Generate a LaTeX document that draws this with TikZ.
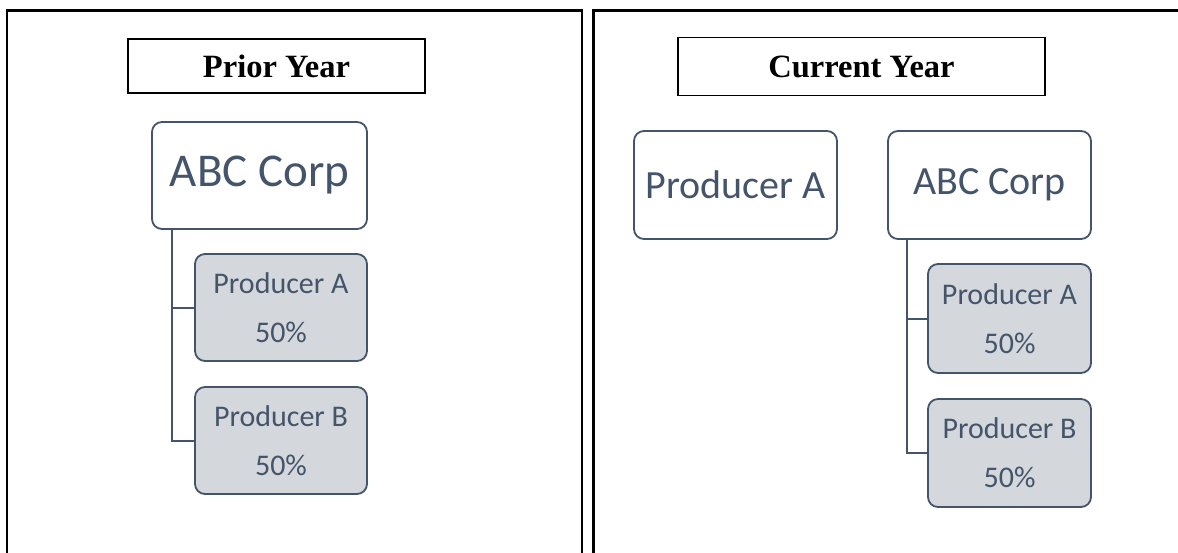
\documentclass[tikz,border=0pt]{standalone}
\usepackage{fontspec}
\setmainfont{Liberation Serif}
\newfontfamily\orgfont{Carlito}
\usetikzlibrary{positioning,calc}
\definecolor{orgline}{HTML}{44546A}
\definecolor{orgfill}{HTML}{D4D7DB}

\begin{document}
\begin{tikzpicture}[x=1pt,y=-1pt,
        yearbox/.style={draw=black,line width=1.8pt,inner sep=0pt,font=\bfseries\fontsize{32.5}{38}\selectfont},
        owner/.style={draw=orgline,line width=1.8pt,rounded corners=10pt,fill=white,inner sep=0pt,text=orgline,font=\orgfont\fontsize{40}{48}\selectfont},
        share/.style={draw=orgline,line width=1.8pt,rounded corners=10pt,fill=orgfill,inner sep=0pt,text=orgline,align=center,font=\orgfont\fontsize{30}{49}\selectfont,minimum width=164pt,minimum height=108pt},
        link/.style={draw=orgline,line width=2pt}]
        \useasboundingbox (0,0) rectangle (1178,552);

        % Panels
        \draw[line width=2.3pt] (7,600) -- (7,10.5) -- (582,10.5) -- (582,600);
        \draw[line width=2.3pt] (593.5,600) -- (593.5,10.5) -- (1200,10.5);

        % Left side (prior year)
        \node[yearbox,minimum width=297pt,minimum height=54pt] (priorTitle) at (276.5,66) {Prior Year};
        \node[owner,minimum width=215pt,minimum height=107pt,font=\orgfont\fontsize{47}{56}\selectfont] (lCorp) at (259.5,175.5) {ABC Corp};
        \node[share,minimum width=172pt,minimum height=107pt] (lProdA) at (281,307.5) {Producer A\\50\%};
        \node[share,minimum width=172pt,minimum height=107pt] (lProdB) at (281,440.5) {Producer B\\50\%};

        % Left side links
        \coordinate (lTrunk) at ([xshift=21pt]lCorp.south west);
        \draw[link] (lTrunk) |- (lProdA.west);
        \draw[link] (lTrunk) |- (lProdB.west);

        % Right side (current year)
        \node[yearbox,minimum width=367pt,minimum height=58pt] (currTitle) at (861.5,66.5) {Current Year};
        \node[owner,minimum width=203pt,minimum height=108pt] (rProd) at (735.5,185) {Producer A};
        \node[owner,minimum width=203pt,minimum height=108pt] (rCorp) at (989.5,185) {ABC Corp};
        \node[share,minimum width=163pt,minimum height=109pt] (rProdA) at (1009.5,318.5) {Producer A\\50\%};
        \node[share,minimum width=163pt,minimum height=108pt] (rProdB) at (1009.5,453) {Producer B\\50\%};

        % Right side links
        \coordinate (rTrunk) at ([xshift=20pt]rCorp.south west);
        \draw[link] (rTrunk) |- (rProdA.west);
        \draw[link] (rTrunk) |- (rProdB.west);
\end{tikzpicture}
\end{document}
